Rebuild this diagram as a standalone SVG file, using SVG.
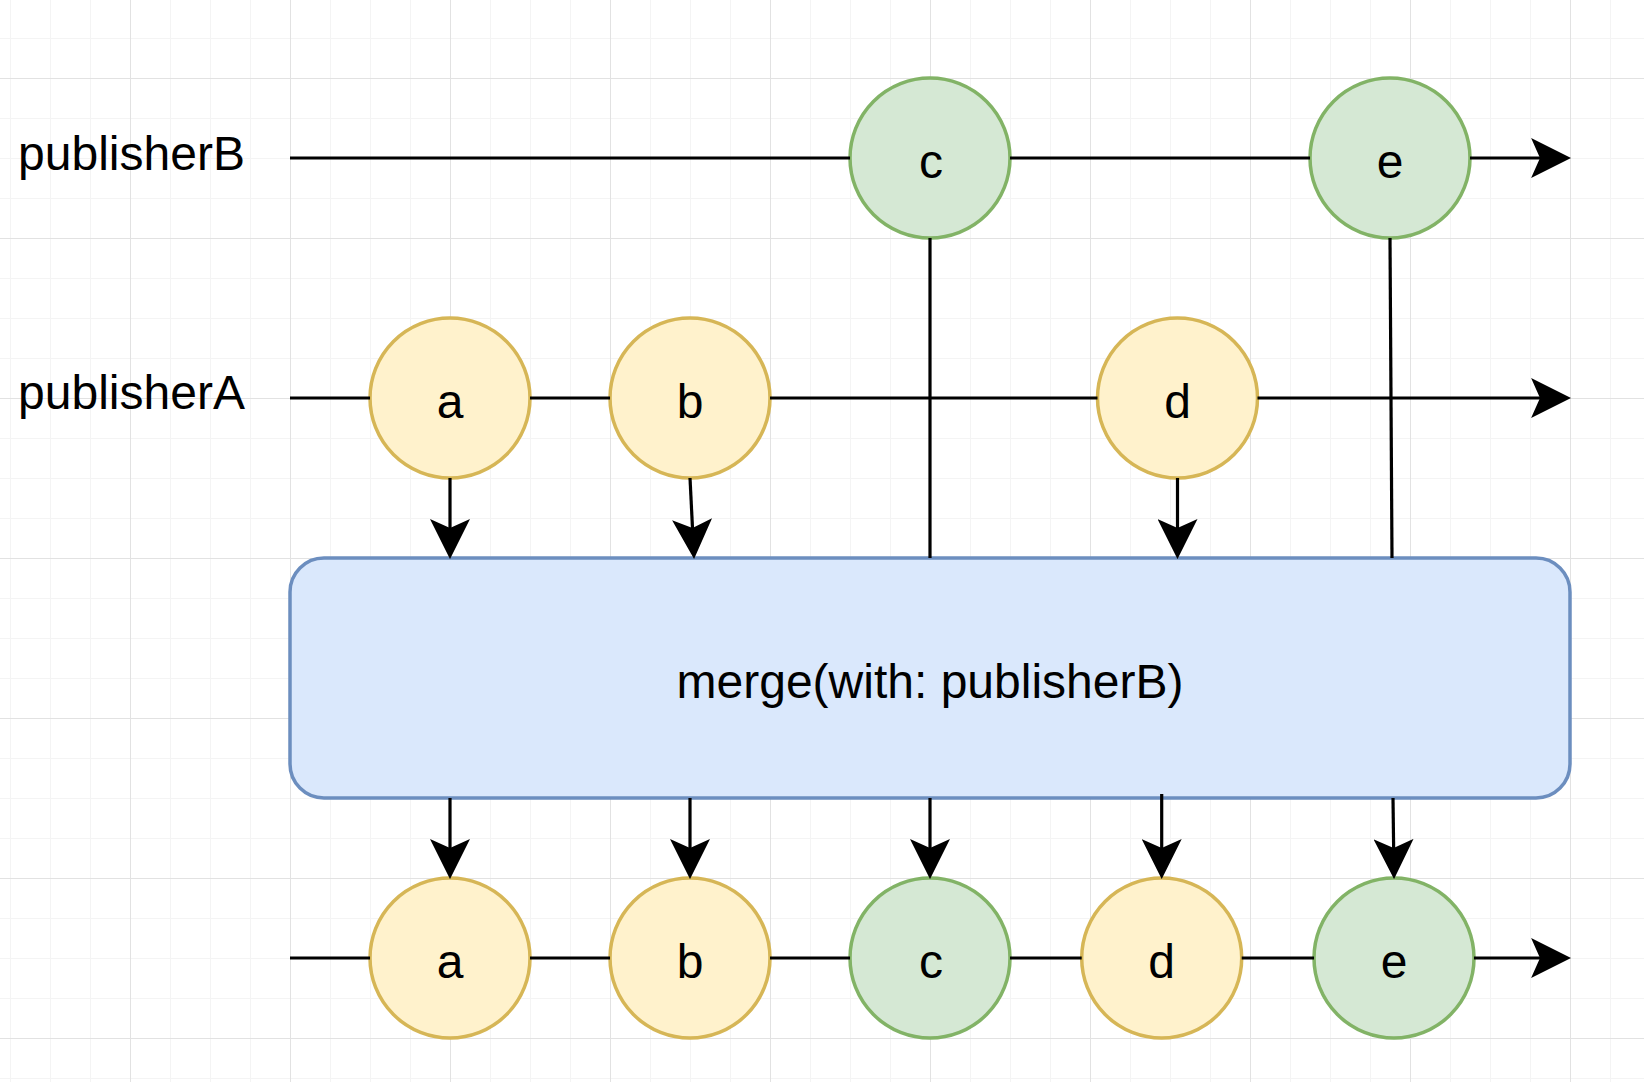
<svg xmlns="http://www.w3.org/2000/svg" width="1644" height="1082" viewBox="0 0 1644 1082">
  <defs>
    <pattern id="gridMinor" patternUnits="userSpaceOnUse" x="10" y="38" width="40" height="40">
      <path d="M0.5 0 V40 M0 0.5 H40" fill="none" stroke="#f4f4f4" stroke-width="1"/>
    </pattern>
    <pattern id="gridMajor" patternUnits="userSpaceOnUse" x="-30" y="-82" width="160" height="160">
      <path d="M0.5 0 V160 M0 0.5 H160" fill="none" stroke="#e2e2e2" stroke-width="1"/>
    </pattern>
    <marker id="arr" markerUnits="userSpaceOnUse" markerWidth="40" markerHeight="40" viewBox="0 0 36 36" refX="26" refY="18" orient="auto">
      <path d="M0,0 L36,18 L0,36 L8,18 Z" fill="#000"/>
    </marker>
  </defs>
  <style>
    .yellow { fill: #fff2cc; stroke: #d6b656; stroke-width: 3.5; }
    .green { fill: #d5e8d4; stroke: #82b366; stroke-width: 3.5; }
    .box { fill: #dae8fc; stroke: #6c8ebf; stroke-width: 3.5; }
    .lbl { font-family: "Liberation Sans", Arial, Helvetica, sans-serif; font-size: 48px; fill: #000; text-anchor: middle; }
    .edge { fill: none; stroke: #000; stroke-width: 3.2; }
    .arrow { marker-end: url(#arr); }
  </style>
  <rect x="0" y="0" width="1644" height="1082" fill="#ffffff"/>
  <rect x="0" y="0" width="1644" height="1082" fill="url(#gridMinor)"/>
  <rect x="0" y="0" width="1644" height="1082" fill="url(#gridMajor)"/>

  <g id="label-publisherB"><text class="lbl" x="131.5" y="170">publisherB</text></g>
  <g id="label-publisherA"><text class="lbl" x="131.5" y="408.5">publisherA</text></g>

  <g id="merge">
    <rect class="box" x="290" y="558" width="1280" height="240" rx="34" ry="34"/>
    <text class="lbl" x="930" y="698">merge(with: publisherB)</text>
  </g>

  <g id="inB-c"><circle class="green" cx="930" cy="158" r="80"/><text class="lbl" x="931" y="178">c</text></g>
  <g id="inB-e"><circle class="green" cx="1390" cy="158" r="80"/><text class="lbl" x="1390" y="178">e</text></g>
  <g id="inA-a"><circle class="yellow" cx="450" cy="398" r="80"/><text class="lbl" x="450" y="418">a</text></g>
  <g id="inA-b"><circle class="yellow" cx="690" cy="398" r="80"/><text class="lbl" x="690" y="418">b</text></g>
  <g id="inA-d"><circle class="yellow" cx="1177.5" cy="398" r="80"/><text class="lbl" x="1177.5" y="418">d</text></g>

  <g id="out-a"><circle class="yellow" cx="450" cy="958" r="80"/><text class="lbl" x="450" y="978">a</text></g>
  <g id="out-b"><circle class="yellow" cx="690" cy="958" r="80"/><text class="lbl" x="690" y="978">b</text></g>
  <g id="out-c"><circle class="green" cx="930" cy="958" r="80"/><text class="lbl" x="931" y="978">c</text></g>
  <g id="out-d"><circle class="yellow" cx="1161.7" cy="958" r="80"/><text class="lbl" x="1161.7" y="978">d</text></g>
  <g id="out-e"><circle class="green" cx="1394" cy="958" r="80"/><text class="lbl" x="1394" y="978">e</text></g>

  <g id="connectors">
    <!-- publisherB timeline -->
    <path class="edge" d="M290 158 H850"/>
    <path class="edge" d="M1010 158 H1310"/>
    <path class="edge arrow" d="M1470 158 H1560"/>
    <!-- publisherA timeline -->
    <path class="edge" d="M290 398 H370"/>
    <path class="edge" d="M530 398 H610"/>
    <path class="edge" d="M770 398 H1097.5"/>
    <path class="edge arrow" d="M1257.5 398 H1560"/>
    <!-- output timeline -->
    <path class="edge" d="M290 958 H370"/>
    <path class="edge" d="M530 958 H610"/>
    <path class="edge" d="M770 958 H850"/>
    <path class="edge" d="M1010 958 H1081.7"/>
    <path class="edge" d="M1241.7 958 H1314"/>
    <path class="edge arrow" d="M1474 958 H1560"/>
    <!-- inputs into merge -->
    <path class="edge arrow" d="M450 478 V548"/>
    <path class="edge arrow" d="M690 478 L693.5 548"/>
    <path class="edge arrow" d="M1177.5 478 V548"/>
    <path class="edge" d="M930 238 V558"/>
    <path class="edge" d="M1390 238 L1392 558"/>
    <!-- outputs from merge -->
    <path class="edge arrow" d="M450 798 V868"/>
    <path class="edge arrow" d="M690 798 V868"/>
    <path class="edge arrow" d="M930 798 V868"/>
    <path class="edge arrow" d="M1161.7 794 V868"/>
    <path class="edge arrow" d="M1393 798 L1393.9 868"/>
  </g>
</svg>
